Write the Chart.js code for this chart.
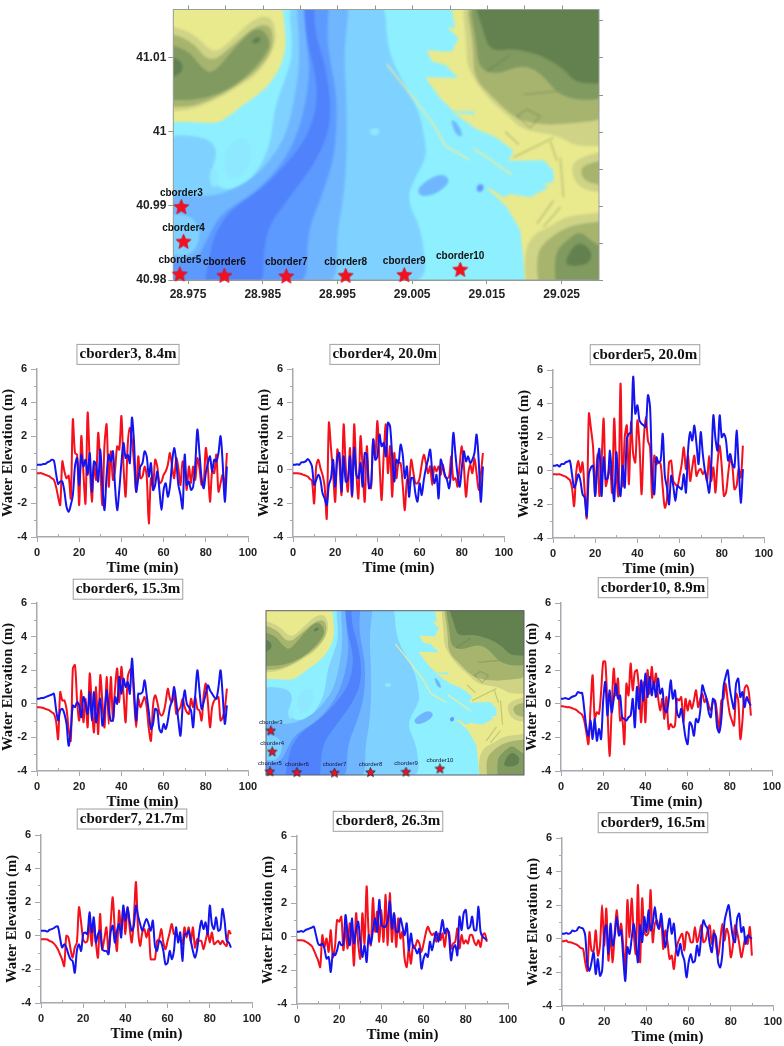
<!DOCTYPE html>
<html>
<head>
<meta charset="utf-8">
<title>Water elevation at the cborder stations</title>
<script src="https://cdn.jsdelivr.net/npm/chart.js@4/dist/chart.umd.js"></script>
<style>
  html, body { margin: 0; padding: 0; background: #fff; }
  body { position: relative; width: 784px; height: 1046px; overflow: hidden; }
  canvas { position: absolute; }
</style>
</head>
<body>
<script>
const minutes = [
  0,1,2,3,4,5,6,7,8,9,10,11,12,13,14,15,16,17,18,19,20,21,22,23,24,25,26,27,28,29,
  30,31,32,33,34,35,36,37,38,39,40,41,42,43,44,45,46,47,48,49,50,51,52,53,54,55,56,57,58,59,
  60,61,62,63,64,65,66,67,68,69,70,71,72,73,74,75,76,77,78,79,80,81,82,83,84,85,86,87,88,89,90];

const cb3Blue = [.3,.3,.3,.35,.35,.45,.5,.6,.55,-.2,
  -.85,-.7,-.7,-1.3,-2.2,-2.5,-2.1,-1.5,.2,.7,
  -.9,.9,.2,.6,-.3,1.0,-1.3,.5,.3,-.7,
  1.2,-.9,-2.4,-.3,.9,.5,1.1,-1.0,-2.4,-1.2,
  .4,1.6,.7,.9,.4,3.1,1.6,-1.3,-.5,.2,
  .4,1.1,.8,-.4,.4,-1.2,-.9,-.1,-1.2,-2.4,
  -1.2,-.8,-1.6,-1.0,.4,1.3,.5,-.9,-1.5,-2.3,
  .9,-.9,-.7,-1.2,-1.0,.3,2.4,1.0,-.5,-1.1,
  -.2,.4,.8,-.1,.6,.5,1.0,2.0,.4,-1.9,.2];
const cb3Red = [-.2,-.2,-.2,-.25,-.3,-.35,-.4,-.5,-.6,-1.0,
  -1.6,-2.1,.5,-.1,-.5,-.35,-1.7,3.0,1.0,.9,
  -2.1,2.0,-.2,-2.0,3.4,.4,-1.9,.3,-.6,2.2,
  .2,-2.1,1.5,2.7,-1.0,1.1,-.6,.0,1.4,1.2,
  3.2,.2,-1.6,1.5,2.5,1.8,.4,-1.3,.8,-.5,
  -.4,.2,-.4,-3.2,-.5,-1.0,.6,.2,-.8,-.7,
  -.3,-.1,.3,1.0,.2,-.5,.7,.1,-.9,.5,
  .1,-1.2,.2,-.8,.2,-.6,.7,.1,-.9,-.8,
  1.3,.1,-1.9,-.1,-.2,.9,-1.3,-.8,-.3,-1.0,1.0];

const cb4Blue = [.3,.3,.33,.3,.45,.45,.5,.65,.5,.2,
  -.9,-.6,-.3,-.6,-1.4,-1.7,-2.1,-.9,-.5,.6,
  -1.0,.7,1.0,-1.3,.8,-.7,-.6,.8,-1.5,1.3,
  -.3,-.5,.4,-1.0,1.0,.9,-1.1,-.9,1.8,.6,
  .8,2.1,1.4,1.6,.8,2.8,2.6,.8,-.7,.6,
  .4,1.5,.9,-.5,.2,-1.6,-.5,-.5,-1.4,-1.9,
  -.8,-1.5,-.6,.1,.6,1.2,-.1,-.8,-.3,-1.7,
  .6,.2,-.3,-.6,-1.1,.1,2.2,.9,-.3,-1.0,
  .1,1.1,.5,.8,.4,.6,1.0,2.1,.6,-1.9,.2];
const cb4Red = [-.2,-.2,-.2,-.22,-.25,-.3,-.35,-.4,-.55,-.65,
  -2.0,.2,.6,.1,-.3,-1.0,-2.9,2.8,1.3,-.2,
  -1.9,1.2,.4,-1.5,2.7,.2,-1.3,1.3,-1.6,2.7,
  -.1,-1.7,2.0,.1,-1.9,1.4,-.9,-1.1,1.8,.8,
  2.9,.4,-1.8,.9,2.7,-.2,1.4,-1.6,1.0,-.5,
  .4,.4,-.9,-2.4,-.6,-.8,.6,-.1,-.8,-.8,
  -.5,.3,.9,.4,-.2,.2,-.9,.2,-.1,.2,
  -.3,.3,-.4,-.5,-.4,.8,-.6,-.5,-1.0,.3,
  1.4,.2,-1.6,-.3,.3,-.2,.7,-.2,-1.2,-.3,1.0];

const cb5Blue = [.3,.3,.35,.25,.4,.4,.5,.55,.6,-.2,
  -1.0,-.7,-.2,-.6,-1.4,-1.6,-2.7,-.2,.2,.3,
  -1.5,.4,1.3,-1.5,.8,-.5,-.4,1.2,-.5,-1.8,
  1.1,-.6,-1.5,.3,-1.0,1.9,2.2,2.3,5.6,3.4,
  3.9,3.0,2.8,2.7,2.6,4.5,3.8,-.3,-1.4,.8,
  .5,.6,2.2,-.3,-1.0,-2.0,-.3,-.9,-1.8,-.9,
  -1.0,-1.1,-.2,-1.3,1.2,2.3,1.8,2.7,1.6,.4,
  2.3,1.0,.0,-.6,-1.3,.3,3.3,1.9,1.2,3.3,
  2.0,2.2,1.8,.6,1.0,.4,.2,2.4,.3,-1.9,.1];
const cb5Red = [-.2,-.2,-.22,-.2,-.25,-.3,-.35,-.45,-.55,-1.0,
  -2.1,-.1,.6,-.1,.5,-1.2,-2.8,3.4,2.5,1.4,
  -1.5,1.0,-1.5,.5,3.1,-.9,-.4,.3,-1.3,3.1,
  .0,-1.5,5.2,-.9,2.0,2.7,-.8,2.9,1.0,.5,
  3.0,1.5,-1.4,1.8,3.2,1.8,1.4,-1.6,.9,.4,
  .5,.4,-1.0,-2.2,-1.7,.5,.6,-.6,-.8,-.9,
  -.3,.4,1.4,.1,.9,-.6,.2,.9,-.3,.0,
  .1,-.2,.0,-.6,.9,-.6,.2,-1.3,.5,1.5,
  .2,-1.5,-1.3,-.2,.7,.3,-1.1,-.9,.1,-.4,1.5];

const cb6Blue = [.3,.3,.35,.35,.4,.45,.5,.55,.6,-.3,
  -1.0,-.4,-.3,-.6,-1.2,-2.5,-1.6,-.1,-.2,.1,
  -.1,-.8,.4,.0,-.6,.7,-1.0,.7,-1.1,-.3,
  .3,-1.3,-.5,.8,-.3,-1.0,-1.0,.4,.0,1.6,
  .6,1.5,1.0,1.3,.6,2.7,.8,-1.0,.6,.6,
  .7,1.4,.5,-.5,-1.5,-1.2,-.3,-.4,-1.5,-1.7,
  -1.2,-1.5,-1.0,-.2,.2,1.0,.1,-1.0,-1.9,-.2,
  .8,.0,-.2,-.4,-1.4,.5,2.0,.8,-.3,.1,
  .6,1.1,.8,.6,.4,.3,1.0,2.0,.5,-1.2,-.1];
const cb6Red = [-.2,-.2,-.22,-.25,-.3,-.35,-.4,-.5,-.6,-1.0,
  -2.1,.7,.2,.2,-.3,-1.5,-2.2,2.1,2.3,.2,
  -1.0,.8,-1.1,.3,-1.4,1.8,-.1,-1.7,1.0,-1.8,
  1.7,.1,-1.4,1.6,-1.2,1.6,-.9,.9,2.1,.1,
  2.2,.6,-1.1,1.6,2.0,2.1,.3,-1.4,.3,-.2,
  .1,.4,-.2,-1.5,-2.2,-.1,.5,.1,-.5,-.7,
  -.5,.1,.9,.3,.1,.6,-.6,-.4,-.2,.3,
  -.2,-.5,-.6,.3,-.2,.4,-.3,-.4,-1.0,.5,
  1.2,.1,-1.4,-.2,.2,.3,.4,-1.0,-.8,-.3,.9];

const cb10Blue = [.3,.3,.35,.3,.3,.4,.45,.5,.7,.65,
  .65,-.3,-1.4,-1.9,-1.0,-2.1,-.9,-2.2,-1.5,-2.1,
  .2,1.3,-.7,.8,-.5,.3,1.2,.3,.5,-.8,
  -.9,-1.0,-.8,-.7,.3,-1.4,1.0,-.3,1.4,.2,
  1.8,.4,1.6,.5,1.3,.4,1.5,.6,.9,-.3,
  -.5,.2,1.4,.3,.8,-.5,-.8,-.3,-1.1,-2.0,
  -2.4,-1.1,-1.3,-1.9,-.9,-1.1,-.4,1.1,.7,.3,
  -.5,-.8,.3,.1,-1.4,-1.7,-.9,1.0,1.6,2.0,
  .9,.2,-.3,1.2,1.5,.4,.7,-.2,.4,.1,-.1];
const cb10Red = [-.15,-.15,-.18,-.2,-.2,-.25,-.3,-.35,-.45,-.55,
  -.65,-1.0,-1.7,-2.4,-.2,1.7,-.9,-.5,-.6,.7,
  2.5,2.5,-.2,-3.1,-.4,2.1,.5,1.5,-1.0,-.8,
  -2.4,1.2,.5,2.4,.8,1.9,2.0,.8,-1.1,1.3,
  -1.1,2.0,.6,2.2,.9,1.8,.4,-.4,.3,-.9,
  .4,-1.5,-1.2,-1.4,-1.3,.3,.2,.4,-1.1,.3,
  -.4,.2,-.3,.2,.8,-.2,.3,.6,.1,.3,
  -.1,-.4,.1,.2,-.6,-1.6,.2,.3,1.2,.2,
  -.6,-1.0,-1.3,.6,.2,-2.1,-1.0,.9,1.1,.7,-.7];

const cb7Blue = [.3,.3,.3,.25,.35,.4,.45,.55,.55,-.1,
  -.7,-.5,-.7,-1.1,-1.4,-1.5,-2.2,-.9,-.5,-.9,
  .1,.2,.1,1.4,.2,1.1,-.4,.1,.3,-.8,
  -.9,-.9,-1.1,.2,.6,-.4,.3,.7,-.1,1.8,
  .9,1.7,.9,.3,.6,1.8,1.2,.7,.3,.7,
  1.0,.7,.3,.9,-.6,-.9,-.3,-.4,-.9,-1.7,
  -1.6,-.9,-1.4,-.9,.5,-.4,.2,-1.5,.1,.1,
  .3,-.3,-.9,-1.3,-.8,.2,.9,.4,.8,.1,
  1.8,.7,.4,1.1,.3,.4,1.6,.9,-.3,-.4,-.7];
const cb7Red = [-.2,-.2,-.2,-.22,-.3,-.35,-.45,-.6,-.8,-1.1,
  -1.4,-1.8,.0,-.1,-.8,-1.3,-.7,-.4,1.7,.8,
  -.2,-.4,-.3,.9,-.6,.8,-.4,-1.3,1.3,-.8,
  -.2,.5,-1.0,.7,2.3,.3,-.9,1.5,.3,1.6,
  .1,1.7,.5,-.4,1.0,3.2,.4,-.6,.2,.4,
  -.1,.4,-1.4,-1.4,-1.4,-.3,-.2,.4,-.4,-.8,
  -.3,.2,.7,.1,.2,-.1,-.2,-.5,.5,-.1,
  .5,-.4,.5,-.7,-.2,-.3,-.3,-.8,-.3,.2,
  -.4,.2,-.5,-.4,-.3,-.5,-.3,-.5,-.6,.3,.1];

const cb8Blue = [.3,.3,.35,.3,.4,.45,.5,.55,.6,.1,
  -.4,-.5,-.4,-.7,-1.3,-1.2,-2.1,-1.0,-1.1,-.8,
  -.3,-.5,-.4,1.3,.2,-.5,1.1,-.4,.4,.9,
  -.3,-1.2,-.5,-1.5,.1,-.4,.4,1.1,.3,2.2,
  .7,.6,.6,1.0,2.1,.5,1.4,.3,.3,1.1,
  .6,.1,.8,-.8,.2,-.6,-.7,-1.0,-.7,-1.9,
  -1.3,-1.0,-1.2,-.3,-.8,-.2,.3,-.3,.3,1.0,
  .2,.5,.1,-1.4,-.7,-.5,-1.1,1.2,.4,1.4,
  1.6,.5,.6,1.2,.4,.4,1.8,.3,.0,-.1,-.2];
const cb8Red = [-.2,-.2,-.2,-.22,-.28,-.35,-.45,-.55,-.8,-1.1,
  -1.4,-1.8,.1,-.6,-.1,-.9,.4,-1.2,-.6,1.0,
  .9,1.2,-.8,.6,-.7,.8,.2,-1.7,1.4,-.4,
  -1.3,1.4,-.4,3.0,.1,-.5,2.3,.3,1.5,-.3,
  1.6,-.3,2.5,-.5,2.6,-.3,1.4,-.6,1.1,-.1,
  .3,-1.3,-1.8,-.7,-1.6,-.5,-.6,-.2,-.4,-.9,
  -.4,.2,.6,.3,.1,.2,-.3,.2,-.2,.2,
  -.6,.3,.3,-.7,-.4,-.3,.5,-.7,.1,-.4,
  -.2,-.4,.1,.1,-.3,-.5,-.2,-.6,.1,.2,-.3];

const cb9Blue = [.3,.3,.35,.3,.35,.5,.45,.5,.7,.65,
  .6,.2,-1.5,-1.9,-1.4,-.8,-2.1,-1.2,-2.2,-1.9,
  .3,.8,-.9,.9,-.4,.2,1.3,.2,.5,-1.1,
  -2.5,-.5,-.9,.0,.9,-.1,-1.4,.8,-.2,1.3,
  .4,1.7,.5,.9,1.9,.9,.6,1.5,.3,-.5,
  .5,1.2,.3,.9,-.4,-1.0,-.3,-.9,-1.3,-2.3,
  -1.4,-.9,-1.4,-1.3,-.4,-1.0,.2,1.1,.8,.6,
  -.3,-.8,.3,.1,-1.4,-1.7,-.9,1.0,1.6,2.0,
  1.0,.1,-.2,1.2,1.5,.4,.7,-.3,.2,.1,.0];
const cb9Red = [-.15,-.15,-.1,-.2,-.2,-.25,-.3,-.35,-.45,-.55,
  -.6,-1.4,-1.9,.4,-.7,-.7,.5,-1.0,-.4,2.0,
  -.4,1.8,-1.3,.3,-1.4,.4,1.7,.2,.9,-.4,
  -1.8,2.3,.1,2.4,.3,-.9,3.2,-1.4,2.4,.4,
  .2,.4,2.9,-.2,.9,1.1,.6,1.2,-.6,.5,
  -.2,-1.2,-1.0,-1.8,-.7,-.2,.1,.3,-.7,.4,
  .3,-.2,-.2,.7,-.2,.2,.8,-.2,-.1,.5,
  .8,-.3,.5,-.4,-1.0,-.1,.9,-.1,.6,.2,
  -1.1,-.4,.8,.4,-.3,-1.1,-.5,.1,-.3,.7,-1.0];

const elevationTicks = [-4, -2, 0, 2, 4, 6];

// stations on the map
const stationNames = ['cborder3','cborder4','cborder5','cborder6','cborder7','cborder8','cborder9','cborder10'];
const stationLon = [28.9741,28.9744,28.9739,28.97986,28.98815,28.9961,29.00394,29.01143];
const stationLat = [40.9898,40.98512,40.98071,40.98053,40.98044,40.98053,40.98063,40.98134];

const lonTicks = [28.975,28.985,28.995,29.005,29.015,29.025];
const latTicks = [40.98,40.99,41,41.01];
const lonMinor = [28.975,28.98,28.985,28.99,28.995,29,29.005,29.01,29.015,29.02,29.025];
const latMinor = [40.98,40.985,40.99,40.995,41,41.005,41.01,41.015];

// terrain outlines traced on a grid of 4.464e-5 deg, flat [u,v,u,v,...]; points on the map edge get pushed past it
const toLon = (u) => 28.97303 + ((u <= 130 ? 70 : u >= 1407 ? 1470 : u) - 130) * 4.464e-5;
const toLat = (v) => 40.98 + (840 - (v <= 22 ? -40 : v >= 840 ? 900 : v)) * 4.464e-5;

const waterBands = [
  ['#7fd2ff', [470,22,490,150,470,220,440,300,430,350,420,430,390,500,340,560,270,570,240,520,265,450,230,405,130,400,130,840,890,840,880,700,830,600,850,540,890,470,885,420,870,340,830,260,770,150,765,22]],
  ['#8ee8ff', [290,440,340,400,370,440,350,520,300,540,280,490]],
  ['#8ee8ff', [715,385,745,380,750,400,725,405]],
  ['#8ee8ff', [240,500,265,510,265,560,240,560]],
  ['#6fb6ff', [495,22,510,150,500,260,470,400,420,480,360,540,280,580,200,590,130,570,130,840,620,840,620,700,640,600,650,470,650,300,640,150,665,22]],
  ['#7fd2ff', [140,640,190,650,215,700,190,760,150,770,130,750,130,650]],
  ['#7fd2ff', [450,640,500,610,530,650,500,700,460,690]],
  ['#5d9aff', [515,22,530,120,540,220,520,340,490,430,440,510,370,580,270,640,230,720,200,780,130,790,130,840,530,840,530,700,570,600,610,480,620,380,620,280,600,180,590,100,600,22]],
  ['#4f82fb', [520,22,530,120,560,230,560,320,530,410,470,490,390,570,300,630,255,700,240,760,215,840,400,840,400,700,470,600,560,480,600,380,600,280,580,170,555,100,550,22]],
  ['#6fb6ff', [860,560,930,515,965,540,920,580,870,590]],
  ['#5d9aff', [1040,552,1060,550,1060,572,1040,575]],
  ['#6fb6ff', [960,350,985,370,1000,410,975,400]]
];

// third entry: keep the corners, for the harbour coast
const landBands = [
  ['#e9e98e', [130,22,450,22,468,100,465,160,440,220,400,270,340,310,290,350,260,368,180,362,130,365]],
  ['#cfd386', [130,60,190,90,250,160,300,120,370,50,420,40,440,90,430,150,380,220,320,260,250,300,170,330,130,330]],
  ['#a6b46e', [130,85,180,110,240,190,310,130,380,70,425,70,430,140,385,205,310,260,235,300,165,320,130,310]],
  ['#809a60', [130,120,170,140,215,200,250,220,320,130,385,70,425,120,400,170,340,235,265,280,170,300,130,290]],
  ['#5f8050', [130,160,155,170,160,220,130,240]],
  ['#5f8050', [370,110,395,105,385,125,365,125]],
  ['#e9e98e', [955,22,975,80,950,75,985,110,965,150,940,150,890,145,905,180,945,190,985,230,885,228,930,290,970,330,1030,330,1035,340,970,335,1040,385,1100,410,1150,450,1135,480,1240,478,1270,510,1270,545,1240,550,1255,560,1200,590,1140,580,1120,590,1090,570,1065,560,1100,590,1130,620,1170,690,1180,780,1190,840,1407,840,1407,22], true],
  ['#cfd386', [990,22,1010,130,1010,200,1070,290,1130,340,1180,390,1280,400,1340,440,1407,430,1407,22]],
  ['#a6b46e', [1000,22,1030,130,1030,230,1090,290,1150,350,1220,370,1300,370,1407,350,1407,22]],
  ['#809a60', [1010,22,1040,130,1045,200,1100,220,1170,190,1230,210,1300,300,1407,290,1407,22]],
  ['#62814f', [1020,22,1060,90,1080,150,1150,140,1230,160,1300,200,1340,250,1407,240,1407,22]],
  ['#cfd386', [1407,440,1340,470,1320,510,1350,570,1407,580]],
  ['#a6b46e', [1407,470,1360,490,1350,520,1375,550,1407,555]],
  ['#cfd386', [1190,840,1180,760,1210,700,1260,680,1300,650,1370,640,1407,630,1407,840]],
  ['#a6b46e', [1230,840,1215,760,1260,710,1330,670,1407,660,1407,840]],
  ['#809a60', [1280,840,1270,760,1310,720,1350,690,1390,730,1407,760,1407,840]],
  ['#62814f', [1300,790,1340,720,1385,750,1380,790,1330,800]]
];

const breakwaters = [
  [770,188,850,290,910,370,945,435,1020,478],
  [1030,442,1145,522]
];

// darker street and building marks on the land
const builtUp = [
  [1125,392,1165,430],
  [1160,345,1200,380,1230,345,1190,325,1160,345],
  [1150,470,1270,410],
  [1290,470,1300,590],
  [1220,670,1270,600],
  [1240,680,1290,620],
  [1260,420,1280,480],
  [1180,280,1280,270],
  [1070,210,1140,160]
];

const axisColor = '#a8a8b0';

// titles are centred on the box in the figure, not on the plot
const boxedTitle = {
  id: 'boxedTitle',
  afterLayout(chart, args, opts) {
    const b = chart.titleBlock;
    if (!b) return;
    const shift = opts.centerX - (chart.canvas.offsetLeft + (b.left + b.right) / 2);
    b.left += shift;
    b.right += shift;
  },
  beforeDraw(chart) {
    const b = chart.titleBlock;
    if (!b) return;
    const t = chart.options.plugins.title;
    const ctx = chart.ctx;
    ctx.save();
    ctx.font = 'bold 15px "Liberation Serif"';
    const w = ctx.measureText(t.text).width + 5;
    const cx = (b.left + b.right) / 2;
    const cy = b.top + t.padding.top + 9.6;
    ctx.fillStyle = '#fff';
    ctx.strokeStyle = '#a0a0a0';
    ctx.lineWidth = 1;
    ctx.fillRect(cx - w / 2, cy - 10, w, 20);
    ctx.strokeRect(cx - w / 2, cy - 10, w, 20);
    ctx.restore();
  }
};

// minor ticks between the labelled ones
const minorTicks = {
  id: 'minorTicks',
  afterDraw(chart) {
    const { ctx, scales: { x, y } } = chart;
    ctx.save();
    ctx.strokeStyle = axisColor;
    ctx.lineWidth = 1;
    ctx.beginPath();
    for (const v of [10, 30, 50, 70, 90]) {
      const px = Math.round(x.getPixelForValue(v)) + 0.5;
      ctx.moveTo(px, y.bottom);
      ctx.lineTo(px, y.bottom - 3);
    }
    for (const v of [-3, -1, 1, 3, 5]) {
      const py = Math.round(y.getPixelForValue(v)) + 0.5;
      ctx.moveTo(x.left, py);
      ctx.lineTo(x.left - 3, py);
    }
    ctx.stroke();
    ctx.restore();
  }
};

function addCanvas(left, top, width, height) {
  const c = document.createElement('canvas');
  c.width = width;
  c.height = height;
  c.style.left = left + 'px';
  c.style.top = top + 'px';
  document.body.appendChild(c);
  return c;
}

function elevationPanel(name, blue, red, box) {
  const canvasLeft = box.left - 40;
  const canvasTop = box.top - 32;
  const canvas = addCanvas(canvasLeft, canvasTop, box.right - canvasLeft + 16, box.bottom - canvasTop + 42);
  const line = (values, color) => ({
    data: values.map((y, i) => ({ x: minutes[i], y })),
    showLine: true,
    borderColor: color,
    borderWidth: 2,
    pointRadius: 0,
    tension: 0.3,
    fill: false
  });
  new Chart(canvas, {
    type: 'scatter',
    data: { datasets: [line(red, '#f5101c'), line(blue, '#1414f0')].reverse() },
    plugins: [boxedTitle, minorTicks],
    options: {
      responsive: false,
      animation: false,
      devicePixelRatio: 1,
      layout: { padding: { right: 16 } },
      plugins: {
        legend: { display: false },
        tooltip: { enabled: false },
        boxedTitle: { centerX: box.titleX },
        title: {
          display: true,
          text: name,
          color: '#111',
          font: { family: '"Liberation Serif"', size: 15, weight: 'bold', lineHeight: 1.28 },
          padding: { top: 32 - 19.2 - box.titleGap + 9.6, bottom: box.titleGap - 9.6 }
        }
      },
      scales: {
        x: {
          type: 'linear',
          min: 0,
          max: 100,
          afterFit: (s) => { s.height = 42; },
          border: { color: axisColor, width: 1.5 },
          grid: { drawOnChartArea: false, tickColor: axisColor, tickLength: 5 },
          ticks: { stepSize: 20, maxRotation: 0, padding: 4, color: '#222', font: { family: '"Liberation Sans"', size: 11, weight: 'bold' } },
          title: { display: true, text: 'Time (min)', color: '#111', padding: 2, font: { family: '"Liberation Serif"', size: 15, weight: 'bold' } }
        },
        y: {
          min: -4,
          max: 6,
          afterFit: (s) => { s.width = 40; },
          afterBuildTicks: (s) => { s.ticks = elevationTicks.map((value) => ({ value })); },
          border: { color: axisColor, width: 1.5 },
          grid: { drawOnChartArea: false, tickColor: axisColor, tickLength: 6 },
          ticks: { padding: 4, color: '#222', font: { family: '"Liberation Sans"', size: 11, weight: 'bold' } },
          title: { display: true, text: 'Water Elevation (m)', color: '#111', padding: 2, font: { family: '"Liberation Serif"', size: 14.7, weight: 'bold' } }
        }
      }
    }
  });
}

function starImage(size, edge) {
  const c = document.createElement('canvas');
  c.width = c.height = size;
  const ctx = c.getContext('2d');
  const r = size / 2 - 0.5;
  ctx.beginPath();
  for (let i = 0; i < 10; i++) {
    const a = -Math.PI / 2 + i * Math.PI / 5;
    const rad = i % 2 ? r * 0.45 : r;
    ctx.lineTo(size / 2 + rad * Math.cos(a), size / 2 + rad * Math.sin(a));
  }
  ctx.closePath();
  ctx.fillStyle = '#f5101f';
  ctx.fill();
  ctx.strokeStyle = edge;
  ctx.lineWidth = 0.7;
  ctx.stroke();
  return c;
}

// paints the bathymetry and land through the chart's own scales
const terrain = {
  id: 'terrain',
  beforeDatasetsDraw(chart, args, opts) {
    const { ctx, chartArea: a, scales: { x, y } } = chart;
    const px = (u) => x.getPixelForValue(toLon(u));
    const py = (v) => y.getPixelForValue(toLat(v));
    // closed outline, rounded through the midpoints of its sides unless sharp
    const fillShape = ([color, pts, sharp]) => {
      const n = pts.length / 2;
      const at = (i) => [px(pts[(i % n) * 2]), py(pts[(i % n) * 2 + 1])];
      const mid = (i) => { const p = at(i), q = at(i + 1); return [(p[0] + q[0]) / 2, (p[1] + q[1]) / 2]; };
      ctx.fillStyle = color;
      ctx.beginPath();
      ctx.moveTo(...mid(0));
      for (let i = 1; i <= n; i++) {
        if (sharp) { ctx.lineTo(...at(i)); } else { ctx.quadraticCurveTo(...at(i), ...mid(i)); }
      }
      ctx.closePath();
      ctx.fill();
    };
    const strokeLine = (pts) => {
      ctx.beginPath();
      for (let i = 0; i < pts.length; i += 2) ctx.lineTo(px(pts[i]), py(pts[i + 1]));
      ctx.stroke();
    };
    ctx.save();
    ctx.beginPath();
    ctx.rect(a.left, a.top, a.width, a.height);
    ctx.clip();
    ctx.fillStyle = '#8ef0ff';
    ctx.fillRect(a.left, a.top, a.width, a.height);
    ctx.filter = `blur(${opts.blur}px)`;
    waterBands.forEach(fillShape);
    landBands.forEach(fillShape);
    ctx.strokeStyle = '#ecec9a';
    ctx.lineWidth = opts.pier;
    breakwaters.forEach(strokeLine);
    ctx.strokeStyle = 'rgba(90,115,70,.3)';
    ctx.lineWidth = opts.pier;
    builtUp.forEach(strokeLine);
    ctx.restore();
    ctx.save();
    ctx.strokeStyle = opts.frame;
    ctx.lineWidth = 1;
    ctx.strokeRect(a.left, a.top, a.width, a.height);
    ctx.restore();
  },
  afterDatasetsDraw(chart, args, opts) {
    const { ctx, scales: { x, y } } = chart;
    ctx.save();
    ctx.font = opts.labelFont;
    ctx.fillStyle = opts.labelColor;
    ctx.textAlign = 'center';
    ctx.textBaseline = 'middle';
    stationNames.forEach((n, i) => {
      ctx.fillText(n, x.getPixelForValue(stationLon[i]), y.getPixelForValue(stationLat[i]) - opts.labelGap);
    });
    if (opts.outerTicks) {
      ctx.strokeStyle = '#8f948f';
      ctx.beginPath();
      lonMinor.forEach((v) => {
        const p = Math.round(x.getPixelForValue(v)) + 0.5;
        ctx.moveTo(p, y.top);
        ctx.lineTo(p, y.top - 4);
      });
      latMinor.forEach((v) => {
        const p = Math.round(y.getPixelForValue(v)) + 0.5;
        ctx.moveTo(x.right, p);
        ctx.lineTo(x.right + 4, p);
      });
      ctx.stroke();
    }
    ctx.restore();
  }
};

function mapChart(canvas, cfg) {
  new Chart(canvas, {
    type: 'scatter',
    data: {
      datasets: [{
        data: stationNames.map((n, i) => ({ x: stationLon[i], y: stationLat[i] })),
        pointStyle: starImage(cfg.star, cfg.starEdge),
        pointRadius: cfg.star / 2,
        clip: false
      }]
    },
    plugins: [terrain],
    options: {
      responsive: false,
      animation: false,
      devicePixelRatio: 1,
      layout: { padding: cfg.padding },
      plugins: {
        legend: { display: false },
        tooltip: { enabled: false },
        terrain: cfg.terrain
      },
      scales: {
        x: {
          type: 'linear',
          display: cfg.axes,
          min: 28.97303,
          max: 29.03,
          afterFit: (s) => { s.height = cfg.axes ? 20 : 0; },
          afterBuildTicks: (s) => { s.ticks = lonTicks.map((value) => ({ value })); },
          grid: { drawOnChartArea: false, tickColor: '#8f948f', tickLength: 4 },
          border: { color: '#8f948f' },
          ticks: { maxRotation: 0, padding: 3, color: '#222', callback: (v) => String(v), font: { family: '"Liberation Sans"', size: 12, weight: 'bold' } }
        },
        y: {
          display: cfg.axes,
          min: 40.98,
          max: 41.01647,
          afterFit: (s) => { s.width = cfg.axes ? 43.3 : 0; },
          afterBuildTicks: (s) => { s.ticks = latTicks.map((value) => ({ value })); },
          grid: { drawOnChartArea: false, tickColor: '#8f948f', tickLength: 5 },
          border: { color: '#8f948f' },
          ticks: { padding: 2, color: '#222', callback: (v) => String(v), font: { family: '"Liberation Sans"', size: 12, weight: 'bold' } }
        }
      }
    }
  });
}

mapChart(addCanvas(130, 0, 490, 300), {
  axes: true,
  star: 17,
  starEdge: '#d01020',
  padding: { top: 7.3, right: 21 },
  terrain: { blur: 1.2, pier: 1.5, frame: '#9a9f9a', labelFont: 'bold 10px "Liberation Sans"', labelColor: '#111', labelGap: 14, outerTicks: true }
});

elevationPanel('cborder3, 8.4m', cb3Blue, cb3Red, { left: 36.7, right: 248, top: 369.3, bottom: 538, titleX: 128, titleGap: 14.6 });
elevationPanel('cborder4, 20.0m', cb4Blue, cb4Red, { left: 293.3, right: 504.3, top: 369.3, bottom: 538, titleX: 384.7, titleGap: 14.6 });
elevationPanel('cborder5, 20.0m', cb5Blue, cb5Red, { left: 553.3, right: 765, top: 370, bottom: 538.3, titleX: 645, titleGap: 15.3 });
elevationPanel('cborder6, 15.3m', cb6Blue, cb6Red, { left: 36.7, right: 248, top: 603.3, bottom: 771.7, titleX: 128, titleGap: 13.8 });
elevationPanel('cborder10, 8.9m', cb10Blue, cb10Red, { left: 561.3, right: 772.7, top: 603.3, bottom: 771.7, titleX: 653, titleGap: 15.3 });

mapChart(addCanvas(250, 600, 284, 185), {
  axes: false,
  star: 11,
  starEdge: '#20202a',
  padding: { left: 16, right: 10, top: 10.7, bottom: 10 },
  terrain: { blur: 0.7, pier: 1.1, frame: '#5c5c6a', labelFont: '6px "Liberation Sans"', labelColor: '#16163a', labelGap: 8.5, outerTicks: false }
});

elevationPanel('cborder7, 21.7m', cb7Blue, cb7Red, { left: 40.7, right: 252, top: 835, bottom: 1003.3, titleX: 132, titleGap: 16 });
elevationPanel('cborder8, 26.3m', cb8Blue, cb8Red, { left: 296.7, right: 508.3, top: 835.7, bottom: 1004, titleX: 388, titleGap: 14.7 });
elevationPanel('cborder9, 16.5m', cb9Blue, cb9Red, { left: 562, right: 773.7, top: 837.7, bottom: 1006, titleX: 653, titleGap: 15.3 });
</script>
</body>
</html>
